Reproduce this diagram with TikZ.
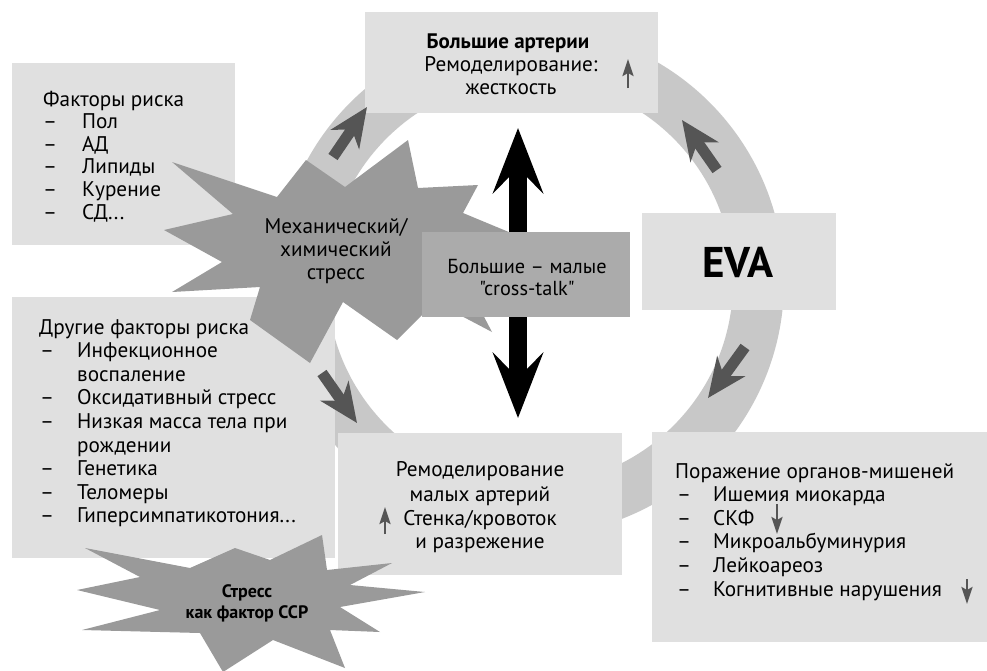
\documentclass[tikz,border=0pt]{standalone}
\usepackage{fontspec}
\setmainfont{PT Sans}[Ligatures=TeXOff]
\usetikzlibrary{arrows.meta}
\definecolor{boxgray}{HTML}{E0E0E0}
\definecolor{ringgray}{HTML}{C8C8C8}
\definecolor{burstgray}{HTML}{9A9A9A}
\definecolor{talkgray}{HTML}{ABABAB}
\definecolor{arrowgray}{HTML}{555555}
\newcommand{\mydots}{...}
\begin{document}
\begin{tikzpicture}[x=1pt,y=-1pt,
  box/.style={fill=boxgray, draw=none, anchor=north west, inner sep=0pt},
  txt/.style={inner sep=0pt, font=\fontsize{21.2}{24}\selectfont},
  btxt/.style={inner sep=0pt, font=\fontsize{21}{24}\selectfont\bfseries},
  ringarrow/.style={draw=arrowgray, line width=11pt, -{Stealth[length=39pt,width=34pt,inset=12pt]}},
  smallarrow/.style={draw=arrowgray, line width=2.5pt, -{Stealth[length=17pt,width=11pt,inset=3pt]}},
  bigarrow/.style={draw=black, line width=18pt, {Stealth[length=65pt,width=50pt,inset=25pt]}-{Stealth[length=65pt,width=50pt,inset=25pt]}}
]
\useasboundingbox (0,0) rectangle (987,670);
% ring
\fill[ringgray, even odd rule] (530,282) circle[radius=254] (530,282) circle[radius=203];
% ring arrows
\coordinate (ra1t) at (333,157); \coordinate (ra1h) at (367,107);
\coordinate (ra2t) at (717,170); \coordinate (ra2h) at (682,120);
\coordinate (ra3t) at (745,347); \coordinate (ra3h) at (708,398);
\coordinate (ra4t) at (322,373); \coordinate (ra4h) at (357,423);
% boxes
\node[box, minimum width=293, minimum height=101] (topbox) at (365,12) {};
\node[box, minimum width=223, minimum height=182] (rbox) at (12,63) {};
\node[box, minimum width=323, minimum height=261] (obox) at (12,297) {};
\node[box, minimum width=194, minimum height=97] (evabox) at (642,213) {};
\node[box, minimum width=284, minimum height=142] (sbox) at (338,433) {};
\node[box, minimum width=335, minimum height=210] (tbox) at (652,432) {};
\draw[ringarrow] (ra1t) -- (ra1h);
\draw[ringarrow] (ra2t) -- (ra2h);
\draw[ringarrow] (ra3t) -- (ra3h);
\draw[ringarrow] (ra4t) -- (ra4h);
% starburst 1
\fill[burstgray] (408,140) -- (418,188) -- (478,185) -- (463,213) -- (528,240) -- (470,290)
  -- (492,332) -- (435,302) -- (397,340) -- (343,302) -- (310,363) -- (250,320)
  -- (260,287) -- (172,292) -- (222,262) -- (164,230) -- (233,214) -- (172,162) -- (277,197)
  -- (306,160) -- (345,187) -- cycle;
% starburst 2
\fill[burstgray] (85,548) -- (190,568) -- (235,548) -- (270,560) -- (322,535) -- (327,570)
  -- (392,563) -- (350,585) -- (425,592) -- (340,607) -- (380,632) -- (330,630)
  -- (345,668) -- (273,640) -- (223,672) -- (200,633) -- (82,630) -- (160,610)
  -- (77,590) -- (140,577) -- cycle;
% big black arrow
\coordinate (bigtop) at (518,128);
\coordinate (bigbot) at (518,418);
\draw[bigarrow] (bigbot) -- (bigtop);
% cross-talk box
\node[box, fill=talkgray, minimum width=208, minimum height=85] (talkbox) at (422,232) {};
% texts
\node[btxt, anchor=base] (ta1) at (508,48) {Большие артерии};
\node[txt, anchor=base] (ta2) at (511,71) {Ремоделирование:};
\node[txt, anchor=base] (ta3) at (511,94) {жесткость};
\coordinate (up1s) at (628,88); \coordinate (up1e) at (628,59);
\draw[smallarrow] (up1s) -- (up1e);

\node[txt, anchor=base west] (rf0) at (43,106) {Факторы риска};
\foreach \t [count=\i] in {Пол,АД,Липиды,Курение,СД\mydots} {
  \node[txt, anchor=base west] (rfd\i) at (43,106+22.6*\i) {–};
  \node[txt, anchor=base west] (rf\i) at (82,106+22.6*\i) {\t};
}

\node[txt, anchor=base west] (of0) at (39,334) {Другие факторы риска};
\foreach \d/\t [count=\i] in {1/Инфекционное,0/воспаление,1/Оксидативный стресс,1/Низкая масса тела при,0/рождении,1/Генетика,1/Теломеры,1/Гиперсимпатикотония\mydots} {
  \ifnum\d=1 \node[txt, anchor=base west] (ofd\i) at (40,334+23.6*\i) {–}; \fi
  \node[txt, anchor=base west] (of\i) at (77,334+23.6*\i) {\t};
}

\node[txt, anchor=base] (m1) at (336,233) {Механический/};
\node[txt, anchor=base] (m2) at (336,256) {химический};
\node[txt, anchor=base] (m3) at (336,279) {стресс};

\node[inner sep=0pt, font=\fontsize{20.3}{24}\selectfont, anchor=base] (ct1) at (527,273) {Большие – малые};
\node[inner sep=0pt, font=\fontsize{20.3}{24}\selectfont, anchor=base] (ct2) at (527,295) {"cross-talk"};

\node[inner sep=0pt, font=\fontsize{43}{46}\selectfont\bfseries, anchor=base] (eva) at (738,277) {EVA};

\node[txt, anchor=base] (s1) at (480,476) {Ремоделирование};
\node[txt, anchor=base] (s2) at (480,501) {малых артерий};
\node[txt, anchor=base] (s3) at (480,525) {Стенка/кровоток};
\node[txt, anchor=base] (s4) at (480,548) {и разрежение};
\coordinate (up2s) at (385,534); \coordinate (up2e) at (385,507);
\draw[smallarrow] (up2s) -- (up2e);

\node[txt, anchor=base west] (tg0) at (675,478) {Поражение органов-мишеней};
\foreach \t [count=\i] in {Ишемия миокарда,СКФ,Микроальбуминурия,Лейкоареоз,Когнитивные нарушения} {
  \node[txt, anchor=base west] (tgd\i) at (677,478+23.6*\i) {–};
  \node[txt, anchor=base west] (tg\i) at (713,478+23.6*\i) {\t};
}
\coordinate (dn1s) at (777,504); \coordinate (dn1e) at (777,534);
\draw[smallarrow] (dn1s) -- (dn1e);
\coordinate (dn2s) at (967,579); \coordinate (dn2e) at (967,604);
\draw[smallarrow] (dn2s) -- (dn2e);

\node[inner sep=0pt, font=\fontsize{18}{21}\selectfont\bfseries, anchor=base] (st1) at (247,597) {Стресс};
\node[inner sep=0pt, font=\fontsize{18}{21}\selectfont\bfseries, anchor=base] (st2) at (247,618) {как фактор ССР};
\end{tikzpicture}
\end{document}
